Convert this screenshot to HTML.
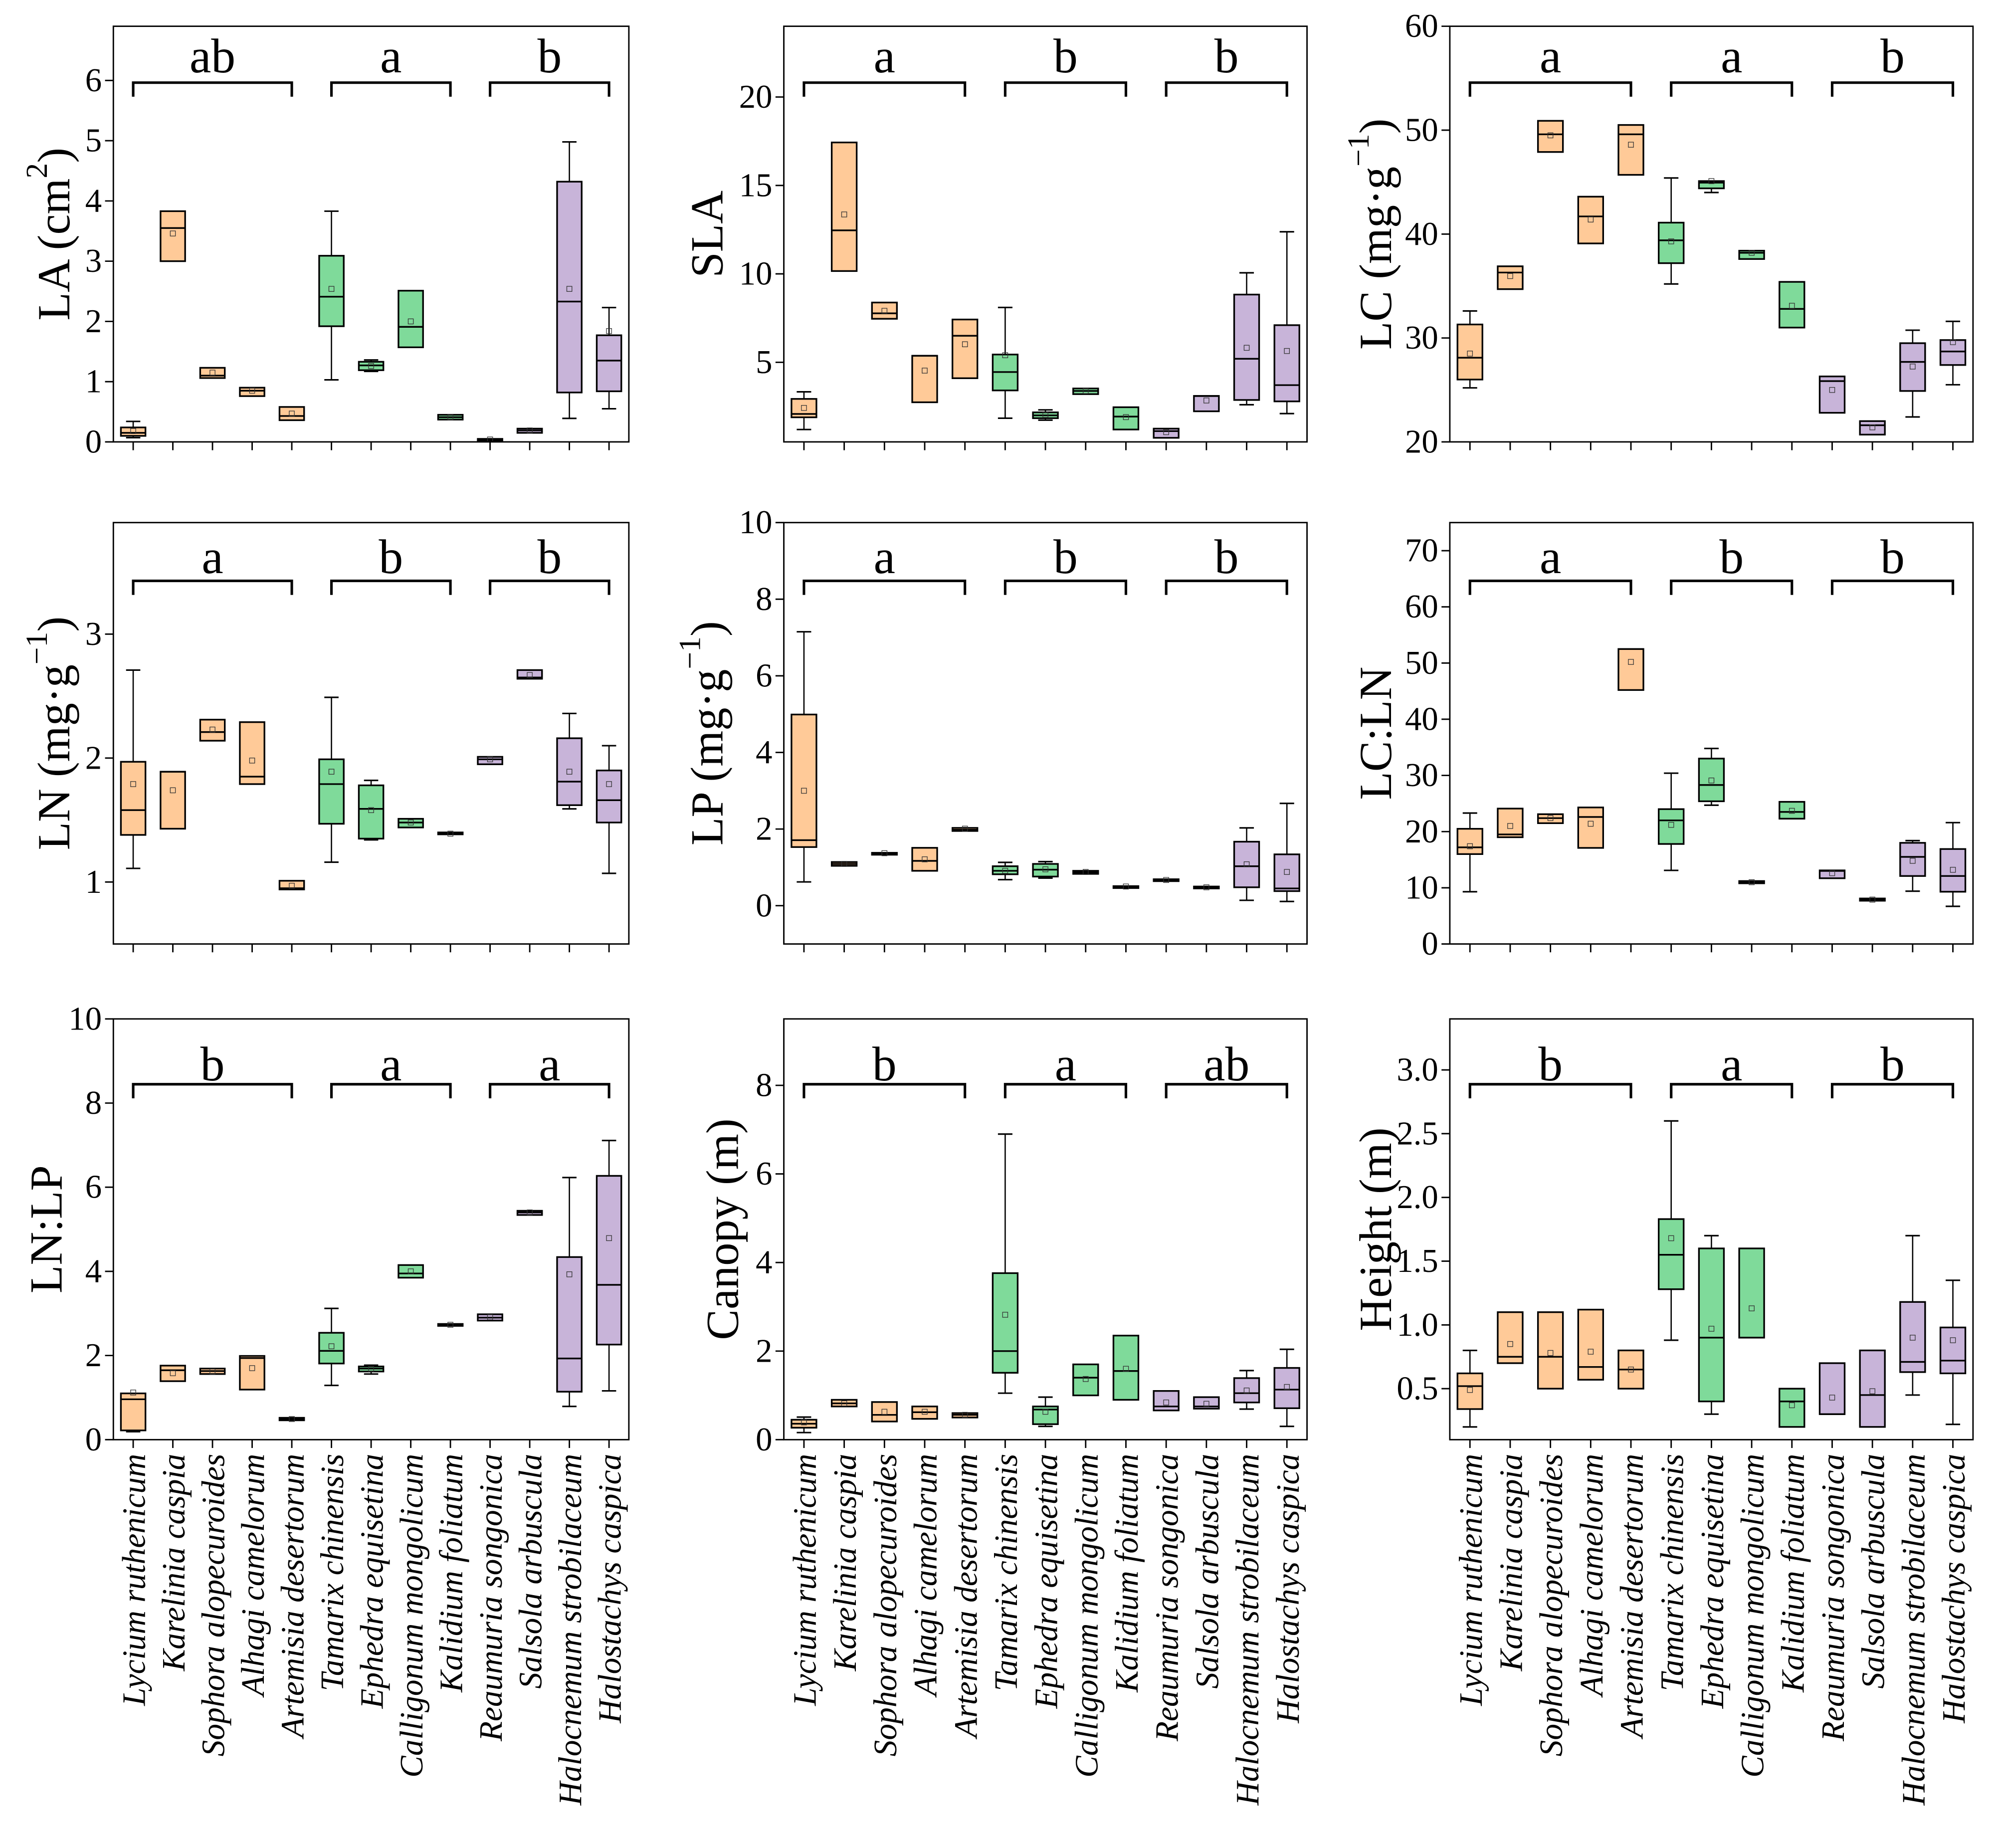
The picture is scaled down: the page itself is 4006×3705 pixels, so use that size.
<!DOCTYPE html>
<html><head><meta charset="utf-8">
<style>
html,body{margin:0;padding:0;background:#fff;}
svg{display:block;}
text{font-family:"Liberation Serif",serif;fill:#000;}
</style></head>
<body>
<svg id="fig" xmlns="http://www.w3.org/2000/svg" width="4006" height="3705" viewBox="0 0 1560 1442.8"></svg>
<script>
const species = ["Lycium ruthenicum","Karelinia caspia","Sophora alopecuroides","Alhagi camelorum","Artemisia desertorum","Tamarix chinensis","Ephedra equisetina","Calligonum mongolicum","Kalidium foliatum","Reaumuria songonica","Salsola arbuscula","Halocnemum strobilaceum","Halostachys caspica"];
const groupOf = [0,0,0,0,0,1,1,1,1,2,2,2,2];

const LA_low  = [0.07,3.0,1.06,0.76,0.36,1.03,1.17,1.57,0.37,0.01,0.15,0.39,0.55];
const LA_q1   = [0.10,3.0,1.06,0.76,0.36,1.92,1.19,1.57,0.37,0.01,0.15,0.82,0.84];
const LA_med  = [0.15,3.55,1.10,0.85,0.43,2.41,1.27,1.91,0.41,0.03,0.19,2.33,1.35];
const LA_q3   = [0.24,3.83,1.23,0.90,0.58,3.09,1.33,2.51,0.45,0.05,0.22,4.32,1.77];
const LA_high = [0.34,3.83,1.23,0.90,0.58,3.83,1.36,2.51,0.45,0.05,0.22,4.98,2.23];
const LA_mean = [0.18,3.46,1.15,0.85,0.47,2.54,1.26,2.0,0.41,0.04,0.19,2.54,1.84];
const LA_ticks = [0,1,2,3,4,5,6];
const LA_letters = ["ab","a","b"];

const SLA_low  = [1.2,10.16,7.46,2.74,4.1,1.84,1.73,3.2,1.2,0.73,2.23,2.6,2.1];
const SLA_q1   = [1.89,10.16,7.46,2.74,4.1,3.41,1.84,3.2,1.2,0.73,2.23,2.87,2.79];
const SLA_med  = [2.08,12.46,7.77,5.37,6.5,4.45,2.0,3.38,1.93,1.11,3.09,5.2,3.71];
const SLA_q3   = [2.93,17.43,8.38,5.37,7.42,5.44,2.17,3.52,2.46,1.25,3.1,8.83,7.1];
const SLA_high = [3.33,17.43,8.38,5.37,7.42,8.1,2.31,3.52,2.46,1.25,3.1,10.06,12.38];
const SLA_mean = [2.42,13.36,7.91,4.53,6.02,5.4,2.03,3.38,1.9,1.05,2.84,5.82,5.64];
const SLA_ticks = [5,10,15,20];
const SLA_letters = ["a","b","b"];

const LC_low  = [25.2,34.7,47.9,39.1,45.7,35.2,44.0,37.6,31.0,22.8,20.7,22.4,25.5];
const LC_q1   = [26.0,34.7,47.9,39.1,45.7,37.2,44.4,37.6,31.0,22.8,20.7,24.9,27.4];
const LC_med  = [28.1,36.3,49.6,41.7,49.6,39.4,44.95,38.2,32.8,25.85,21.6,27.7,28.7];
const LC_q3   = [31.3,36.9,50.9,43.6,50.5,41.1,45.1,38.4,35.4,26.3,22.0,29.5,29.8];
const LC_high = [32.6,36.9,50.9,43.6,50.5,45.4,45.1,38.4,35.4,26.3,22.0,30.75,31.6];
const LC_mean = [28.5,35.96,49.5,41.4,48.6,39.3,45.1,38.2,33.1,25.0,21.4,27.25,29.6];
const LC_ticks = [20,30,40,50,60];
const LC_letters = ["a","a","b"];

const LN_low  = [1.11,1.43,2.14,1.79,0.94,1.16,1.34,1.44,1.39,1.95,2.64,1.59,1.07];
const LN_q1   = [1.38,1.43,2.14,1.79,0.94,1.47,1.35,1.44,1.39,1.95,2.64,1.62,1.48];
const LN_med  = [1.58,1.89,2.21,1.85,0.95,1.79,1.59,1.48,1.39,1.99,2.65,1.81,1.66];
const LN_q3   = [1.97,1.89,2.31,2.29,1.01,1.99,1.78,1.51,1.40,2.01,2.71,2.16,1.9];
const LN_high = [2.71,1.89,2.31,2.29,1.01,2.49,1.82,1.51,1.40,2.01,2.71,2.36,2.1];
const LN_mean = [1.79,1.74,2.23,1.98,0.97,1.89,1.58,1.48,1.39,1.99,2.67,1.89,1.79];
const LN_ticks = [1,2,3];
const LN_letters = ["a","b","b"];

const LP_low  = [0.62,1.04,1.34,0.91,1.95,0.68,0.72,0.83,0.49,0.65,0.46,0.14,0.11];
const LP_q1   = [1.53,1.04,1.34,0.91,1.95,0.82,0.76,0.83,0.49,0.65,0.46,0.48,0.38];
const LP_med  = [1.71,1.09,1.36,1.17,1.98,0.91,0.94,0.87,0.5,0.67,0.48,1.03,0.45];
const LP_q3   = [4.99,1.14,1.38,1.51,2.03,1.03,1.09,0.91,0.51,0.69,0.5,1.67,1.34];
const LP_high = [7.15,1.14,1.38,1.51,2.03,1.13,1.15,0.91,0.51,0.69,0.5,2.03,2.67];
const LP_mean = [3.0,1.09,1.37,1.21,2.01,0.91,0.95,0.88,0.5,0.67,0.48,1.08,0.88];
const LP_ticks = [0,2,4,6,8,10];
const LP_letters = ["a","b","b"];

const LCLN_low  = [9.3,19.0,21.5,17.1,45.2,13.1,24.7,10.8,22.3,11.7,7.7,9.4,6.7];
const LCLN_q1   = [16.0,19.0,21.5,17.1,45.2,17.8,25.4,10.8,22.3,11.7,7.7,12.1,9.3];
const LCLN_med  = [17.2,19.5,22.4,22.6,52.5,22.0,28.3,11.0,23.5,13.0,7.9,15.5,12.1];
const LCLN_q3   = [20.5,24.1,23.1,24.3,52.5,24.0,33.0,11.2,25.3,13.1,8.1,18.0,16.9];
const LCLN_high = [23.3,24.1,23.1,24.3,52.5,30.4,34.8,11.2,25.3,13.1,8.1,18.4,21.6];
const LCLN_mean = [17.4,21.0,22.4,21.4,50.2,21.2,29.1,11.0,23.7,12.6,7.9,14.8,13.2];
const LCLN_ticks = [0,10,20,30,40,50,60,70];
const LCLN_letters = ["a","b","b"];

const LNLP_low  = [0.19,1.39,1.56,1.19,0.46,1.29,1.56,3.85,2.71,2.83,5.34,0.79,1.16];
const LNLP_q1   = [0.22,1.39,1.56,1.19,0.46,1.81,1.62,3.85,2.71,2.83,5.34,1.14,2.26];
const LNLP_med  = [0.96,1.65,1.63,1.94,0.49,2.11,1.69,3.95,2.73,2.9,5.4,1.93,3.68];
const LNLP_q3   = [1.1,1.76,1.69,1.99,0.52,2.54,1.74,4.15,2.75,2.98,5.44,4.34,6.27];
const LNLP_high = [1.1,1.76,1.69,1.99,0.52,3.12,1.77,4.15,2.75,2.98,5.44,6.23,7.11];
const LNLP_mean = [1.12,1.58,1.62,1.7,0.49,2.22,1.68,4.0,2.73,2.91,5.4,3.93,4.79];
const LNLP_ticks = [0,2,4,6,8,10];
const LNLP_letters = ["b","a","a"];

const CAN_low  = [0.16,0.75,0.41,0.47,0.5,1.05,0.3,1.0,0.9,0.66,0.7,0.69,0.3];
const CAN_q1   = [0.27,0.75,0.41,0.47,0.5,1.51,0.35,1.0,0.9,0.66,0.7,0.84,0.71];
const CAN_med  = [0.36,0.82,0.56,0.62,0.56,2.0,0.68,1.4,1.55,0.75,0.75,1.05,1.13];
const CAN_q3   = [0.45,0.9,0.85,0.75,0.6,3.76,0.75,1.7,2.35,1.1,0.96,1.39,1.62];
const CAN_high = [0.51,0.9,0.85,0.75,0.6,6.9,0.96,1.7,2.35,1.1,0.96,1.56,2.04];
const CAN_mean = [0.39,0.82,0.63,0.63,0.56,2.82,0.63,1.37,1.6,0.84,0.81,1.11,1.19];
const CAN_ticks = [0,2,4,6,8];
const CAN_letters = ["b","a","ab"];

const HT_low  = [0.2,0.7,0.5,0.57,0.5,0.88,0.3,0.9,0.2,0.3,0.2,0.45,0.22];
const HT_q1   = [0.34,0.7,0.5,0.57,0.5,1.28,0.4,0.9,0.2,0.3,0.2,0.63,0.62];
const HT_med  = [0.52,0.75,0.75,0.67,0.65,1.55,0.9,0.9,0.4,0.3,0.45,0.71,0.72];
const HT_q3   = [0.62,1.1,1.1,1.12,0.8,1.83,1.6,1.6,0.5,0.7,0.8,1.18,0.98];
const HT_high = [0.8,1.1,1.1,1.12,0.8,2.6,1.7,1.6,0.5,0.7,0.8,1.7,1.35];
const HT_mean = [0.49,0.85,0.78,0.79,0.65,1.68,0.97,1.13,0.37,0.43,0.48,0.9,0.88];
const HT_ticks = [0.5,1.0,1.5,2.0,2.5,3.0];
const HT_letters = ["b","a","b"];

const colors = ["#FFCA98","#7FDA9A","#C8B4D9"];
const NS = "http://www.w3.org/2000/svg";
const svg = document.getElementById("fig");

function mk(tag, attrs, parent) {
  const e = document.createElementNS(NS, tag);
  for (const k in attrs) e.setAttribute(k, attrs[k]);
  (parent || svg).appendChild(e);
  return e;
}

const cols = [[88.5,491],[612,1020.5],[1132,1540.5]];
const rows = [[20.5,345],[408,737],[795.5,1124]];

function panel(p) {
  const [x0,x1] = cols[p.c], [y0,y1] = rows[p.r];
  const g = mk("g", {});
  
  
  const band = (x1-x0)/13;
  const xs = i => x0 + band*(i+0.5);
  const ys = v => y1 - (v - p.min)/(p.max - p.min)*(y1-y0);
  // boxes
  for (let i=0;i<13;i++) {
    const bg = mk("g", {}, g);
    
    
    const cx = xs(i), hw = band*0.31, cw = band*0.18;
    if (p.hi[i] > p.q3[i]) {
      mk("line",{x1:cx,x2:cx,y1:ys(p.q3[i]),y2:ys(p.hi[i]),stroke:"#000","stroke-width":1},bg);
      mk("line",{x1:cx-cw,x2:cx+cw,y1:ys(p.hi[i]),y2:ys(p.hi[i]),stroke:"#000","stroke-width":1.2},bg);
    }
    if (p.lo[i] < p.q1[i]) {
      mk("line",{x1:cx,x2:cx,y1:ys(p.q1[i]),y2:ys(p.lo[i]),stroke:"#000","stroke-width":1},bg);
      mk("line",{x1:cx-cw,x2:cx+cw,y1:ys(p.lo[i]),y2:ys(p.lo[i]),stroke:"#000","stroke-width":1.2},bg);
    }
    const top = ys(p.q3[i]), bot = ys(p.q1[i]);
    mk("rect",{x:cx-hw,y:top,width:2*hw,height:Math.max(bot-top,1.5),fill:colors[groupOf[i]],stroke:"#000","stroke-width":1.3},bg);
    mk("line",{x1:cx-hw,x2:cx+hw,y1:ys(p.med[i]),y2:ys(p.med[i]),stroke:"#000","stroke-width":1.3},bg);
    mk("rect",{x:cx-2,y:ys(p.mean[i])-2,width:4,height:4,fill:"none",stroke:"#333","stroke-width":0.5},bg);
  }
  // frame
  const fr = mk("rect",{x:x0,y:y0,width:x1-x0,height:y1-y0,fill:"none",stroke:"#000","stroke-width":1.1},g);
  
  
  // y ticks
  p.ticks.forEach(t => {
    const y = ys(t);
    mk("line",{x1:x0-6.5,x2:x0,y1:y,y2:y,stroke:"#000","stroke-width":1.1},g);
    const tx = mk("text",{x:x0-9,y:y,"text-anchor":"end","dominant-baseline":"central","font-size":26},g);
    tx.textContent = p.fmt ? t.toFixed(1) : String(t);
    
    
  });
  // x ticks
  for (let i=0;i<13;i++) {
    mk("line",{x1:xs(i),x2:xs(i),y1:y1,y2:y1+6.5,stroke:"#000","stroke-width":1.1},g);
    if (p.r === 2) {
      const t = mk("text",{transform:`translate(${xs(i)+1},${y1+11}) rotate(-90)`,"text-anchor":"end","dominant-baseline":"central","font-size":25.5,"font-style":"italic"},g);
      t.textContent = species[i];
      
      
    }
  }
  // brackets
  const spans = [[0,4],[5,8],[9,12]];
  const by = y0 + [44,45.5,51][p.r], loff = [8,6,3][p.r];
  spans.forEach((s,k) => {
    const a = xs(s[0]), b = xs(s[1]);
    const br = mk("path",{d:`M${a},${by+11} V${by} H${b} V${by+11}`,fill:"none",stroke:"#000","stroke-width":2},g);
    
    
    const lt = mk("text",{x:(a+b)/2,y:by-loff,"text-anchor":"middle","font-size":38},g);
    lt.textContent = p.letters[k];
    
    
  });
  // y title
  const lx = [42,552,1074][p.c] + (p.lxo||0), ly = (y0+y1)/2 + (p.lyo||0);
  const yt = mk("text",{transform:`translate(${lx},${ly}) rotate(-90)`,"text-anchor":"middle","dominant-baseline":"central","font-size":36},g);
  
  
  yt.appendChild(document.createTextNode(p.title));
  if (p.sup) {
    const s = mk("tspan",{"baseline-shift":"super","font-size":24},yt); s.textContent = p.sup;
    const c = mk("tspan",{},yt); c.textContent = ")";
  }
}

panel({name:"la",r:0,c:0,min:0,max:6.9,lo:LA_low,q1:LA_q1,med:LA_med,q3:LA_q3,hi:LA_high,mean:LA_mean,ticks:LA_ticks,letters:LA_letters,title:"LA (cm",sup:"2",lyo:0});
panel({name:"sla",r:0,c:1,min:0.5,max:24,lo:SLA_low,q1:SLA_q1,med:SLA_med,q3:SLA_q3,hi:SLA_high,mean:SLA_mean,ticks:SLA_ticks,letters:SLA_letters,title:"SLA"});
panel({name:"lc",r:0,c:2,min:20,max:60,lo:LC_low,q1:LC_q1,med:LC_med,q3:LC_q3,hi:LC_high,mean:LC_mean,ticks:LC_ticks,letters:LC_letters,title:"LC (mg·g",sup:"−1"});
panel({name:"ln",r:1,c:0,min:0.5,max:3.9,lo:LN_low,q1:LN_q1,med:LN_med,q3:LN_q3,hi:LN_high,mean:LN_mean,ticks:LN_ticks,letters:LN_letters,title:"LN (mg·g",sup:"−1"});
panel({name:"lp",r:1,c:1,min:-1,max:10,lo:LP_low,q1:LP_q1,med:LP_med,q3:LP_q3,hi:LP_high,mean:LP_mean,ticks:LP_ticks,letters:LP_letters,title:"LP (mg·g",sup:"−1"});
panel({name:"lc-ln",r:1,c:2,min:0,max:75,lo:LCLN_low,q1:LCLN_q1,med:LCLN_med,q3:LCLN_q3,hi:LCLN_high,mean:LCLN_mean,ticks:LCLN_ticks,letters:LCLN_letters,title:"LC:LN"});
panel({name:"ln-lp",r:2,c:0,min:0,max:10,lo:LNLP_low,q1:LNLP_q1,med:LNLP_med,q3:LNLP_q3,hi:LNLP_high,mean:LNLP_mean,ticks:LNLP_ticks,letters:LNLP_letters,title:"LN:LP",lxo:-6});
panel({name:"canopy",r:2,c:1,min:0,max:9.5,lo:CAN_low,q1:CAN_q1,med:CAN_med,q3:CAN_q3,hi:CAN_high,mean:CAN_mean,ticks:CAN_ticks,letters:CAN_letters,title:"Canopy (m)",lxo:12});
panel({name:"height",r:2,c:2,min:0.1,max:3.4,lo:HT_low,q1:HT_q1,med:HT_med,q3:HT_q3,hi:HT_high,mean:HT_mean,ticks:HT_ticks,letters:HT_letters,title:"Height (m)",fmt:true});
</script>
</body></html>
